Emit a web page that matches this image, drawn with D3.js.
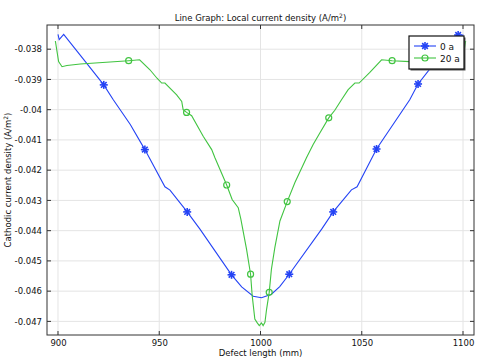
<!DOCTYPE html>
<html>
<head>
<meta charset="utf-8">
<script src="https://cdn.jsdelivr.net/npm/d3@7"></script>
<style>
  body { margin: 0; background: #fff; }
  svg { font-family: 'DejaVu Sans', sans-serif; }
</style>
</head>
<body>
<div id="chart"></div>
<script>
// series 0 a  [defect length (mm), current density (A/m2)]
const series0 = [
  [900, -0.03751], [900.6, -0.03768], [902.8, -0.03751], [914.3, -0.03848],
  [922.6, -0.03918], [927.3, -0.03967], [935.7, -0.04049], [942.9, -0.04132],
  [952.8, -0.04255], [955.3, -0.04266], [963.8, -0.04338], [970.1, -0.04395],
  [985.7, -0.04546], [990.7, -0.04586], [996.4, -0.04617], [1000.5, -0.04622],
  [1005.4, -0.0461], [1009.5, -0.04585], [1014.2, -0.04544], [1030.2, -0.04395],
  [1035.9, -0.04338], [1044.9, -0.04265], [1047.7, -0.04255], [1057.3, -0.0413],
  [1073.7, -0.03967], [1077.8, -0.03915], [1085.7, -0.03848], [1097.2, -0.03751],
  [1099.4, -0.03768], [1100, -0.03751]
]
const markers0 = [
  [922.6, -0.03918], [942.9, -0.04132], [963.8, -0.04338], [985.7, -0.04546],
  [1014.2, -0.04544], [1035.9, -0.04338], [1057.3, -0.0413], [1077.8, -0.03915],
  [1097.6, -0.03753]
]

// series 20 a
const series20 = [
  [898.7, -0.03773], [900.3, -0.03841], [902, -0.03858], [904.4, -0.03854],
  [911, -0.03849], [934.9, -0.03838], [940.3, -0.03835], [945.4, -0.03868],
  [948.9, -0.03896], [951.2, -0.03912], [952.8, -0.03912], [958.6, -0.03951],
  [961.1, -0.03973], [961.8, -0.04], [963.5, -0.04009], [966, -0.0402],
  [971.7, -0.04088], [975.9, -0.04132], [977.5, -0.04159], [983.3, -0.04249],
  [986, -0.04297], [989, -0.04324], [990.3, -0.04362], [993.1, -0.04461],
  [995.1, -0.04544], [995.9, -0.04615], [997.2, -0.04692], [998.4, -0.04705],
  [999.4, -0.04714], [1000.5, -0.04705], [1001.3, -0.04714], [1002.2, -0.04703],
  [1003, -0.0466], [1004.3, -0.04604], [1005.4, -0.04527], [1007.1, -0.04455],
  [1009.6, -0.04368], [1013.2, -0.04304], [1017, -0.04241], [1022.7, -0.04159],
  [1026, -0.04115], [1029.3, -0.04077], [1033.7, -0.04027], [1036.7, -0.04002],
  [1040, -0.03967], [1043.3, -0.03934], [1046.6, -0.03912], [1048.7, -0.03912],
  [1054, -0.03877], [1059.8, -0.03835], [1065, -0.03838], [1073.7, -0.03841],
  [1096, -0.03854], [1098, -0.03858], [1099.7, -0.03841], [1101.3, -0.03773]
]
const markers20 = [
  [934.9, -0.03838], [963.5, -0.04009], [983.3, -0.04249], [995.1, -0.04544],
  [1004.3, -0.04604], [1013.2, -0.04304], [1033.7, -0.04027], [1065, -0.03838]
]

const xTicks = [900, 950, 1000, 1050, 1100]
const yTicks = [-0.038, -0.039, -0.04, -0.041, -0.042, -0.043, -0.044, -0.045, -0.046, -0.047]
const legendLabels = ['0 a', '20 a']

const blue = '#2443f5'
const green = '#41c441'

const margin = { top: 25, left: 47, right: 11, bottom: 25 }
const width = 485 - margin.left - margin.right
const height = 360 - margin.top - margin.bottom

const svgRoot = d3
  .select('#chart')
  .append('svg')
  .attr('width', 485)
  .attr('height', 360)

const svg = svgRoot
  .append('g')
  .attr('transform', 'translate(' + margin.left + ',' + margin.top + ')')

const xPositionScale = d3.scaleLinear().domain([894.57, 1105.43]).range([0, width])
const yPositionScale = d3.scaleLinear().domain([-0.04745, -0.0372]).range([height, 0])

// grid
svg
  .selectAll('.vgrid')
  .data(xTicks)
  .enter()
  .append('line')
  .attr('x1', d => xPositionScale(d))
  .attr('x2', d => xPositionScale(d))
  .attr('y1', 0)
  .attr('y2', height)
  .attr('stroke', '#e4e4e4')
svg
  .selectAll('.hgrid')
  .data(yTicks)
  .enter()
  .append('line')
  .attr('y1', d => yPositionScale(d))
  .attr('y2', d => yPositionScale(d))
  .attr('x1', 0)
  .attr('x2', width)
  .attr('stroke', '#e4e4e4')

const line = d3
  .line()
  .x(d => xPositionScale(d[0]))
  .y(d => yPositionScale(d[1]))

svg
  .append('path')
  .datum(series0)
  .attr('d', line)
  .attr('fill', 'none')
  .attr('stroke', blue)
  .attr('stroke-width', 1.1)

svg
  .append('path')
  .datum(series20)
  .attr('d', line)
  .attr('fill', 'none')
  .attr('stroke', green)
  .attr('stroke-width', 1.1)

// asterisk marker
function star(g, r) {
  const angles = [0, 45, 90, 135]
  angles.forEach(a => {
    const rad = (a * Math.PI) / 180
    g.append('line')
      .attr('x1', -r * Math.cos(rad))
      .attr('y1', -r * Math.sin(rad))
      .attr('x2', r * Math.cos(rad))
      .attr('y2', r * Math.sin(rad))
      .attr('stroke', blue)
      .attr('stroke-width', 1.6)
  })
}

svg
  .selectAll('.star')
  .data(markers0)
  .enter()
  .append('g')
  .attr('transform', d => 'translate(' + xPositionScale(d[0]) + ',' + yPositionScale(d[1]) + ')')
  .each(function() {
    star(d3.select(this), 4)
  })

svg
  .selectAll('.ring')
  .data(markers20)
  .enter()
  .append('circle')
  .attr('cx', d => xPositionScale(d[0]))
  .attr('cy', d => yPositionScale(d[1]))
  .attr('r', 3)
  .attr('fill', 'none')
  .attr('stroke', green)
  .attr('stroke-width', 1.2)

// axes (frame with inward ticks)
const xAxis = d3
  .axisBottom(xPositionScale)
  .tickValues(xTicks)
  .tickFormat(d3.format('d'))
  .tickSize(0)
  .tickPadding(5)
svg
  .append('g')
  .attr('class', 'axis x-axis')
  .attr('transform', 'translate(0,' + height + ')')
  .call(xAxis)

const yAxis = d3
  .axisLeft(yPositionScale)
  .tickValues(yTicks)
  .tickFormat(d => String(d))
  .tickSize(0)
  .tickPadding(5)
svg
  .append('g')
  .attr('class', 'axis y-axis')
  .call(yAxis)

svg.selectAll('.axis path').remove()
svg
  .selectAll('.axis text')
  .attr('font-size', 8.5)
  .attr('font-family', 'DejaVu Sans')
  .attr('fill', '#111')

// inward tick marks on all four sides
yTicks.forEach(t => {
  svg.append('line').attr('x1', 0).attr('x2', 4)
    .attr('y1', yPositionScale(t)).attr('y2', yPositionScale(t)).attr('stroke', '#333')
  svg.append('line').attr('x1', width - 4).attr('x2', width)
    .attr('y1', yPositionScale(t)).attr('y2', yPositionScale(t)).attr('stroke', '#333')
})
xTicks.forEach(t => {
  svg.append('line').attr('y1', height).attr('y2', height - 4)
    .attr('x1', xPositionScale(t)).attr('x2', xPositionScale(t)).attr('stroke', '#333')
  svg.append('line').attr('y1', 0).attr('y2', 4)
    .attr('x1', xPositionScale(t)).attr('x2', xPositionScale(t)).attr('stroke', '#333')
})

svg
  .append('rect')
  .attr('x', 0)
  .attr('y', 0)
  .attr('width', width)
  .attr('height', height)
  .attr('fill', 'none')
  .attr('stroke', '#333')
  .attr('stroke-width', 1)

// titles
const title = svgRoot
  .append('text')
  .attr('x', margin.left + width / 2)
  .attr('y', 21)
  .attr('text-anchor', 'middle')
  .attr('font-size', 8.5)
  .attr('fill', '#111')
  .text('Line Graph: Local current density (A/m')
title.append('tspan').attr('dy', -3).attr('font-size', 6).text('2')
title.append('tspan').attr('dy', 3).text(')')

svgRoot
  .append('text')
  .attr('x', margin.left + width / 2)
  .attr('y', 356)
  .attr('text-anchor', 'middle')
  .attr('font-size', 8.5)
  .attr('fill', '#111')
  .text('Defect length (mm)')

const yLabel = svgRoot
  .append('text')
  .attr('transform', 'translate(11,' + (margin.top + height / 2) + ') rotate(-90)')
  .attr('text-anchor', 'middle')
  .attr('font-size', 8.5)
  .attr('fill', '#111')
  .text('Cathodic current density (A/m')
yLabel.append('tspan').attr('dy', -3).attr('font-size', 6).text('2')
yLabel.append('tspan').attr('dy', 3).text(')')

// legend
const legend = svgRoot.append('g').attr('transform', 'translate(409,36)')
legend
  .append('rect')
  .attr('x', 1.5)
  .attr('y', 1.5)
  .attr('width', 55)
  .attr('height', 33)
  .attr('fill', '#555')
legend
  .append('rect')
  .attr('width', 55)
  .attr('height', 33)
  .attr('fill', '#fff')
  .attr('stroke', '#111')
  .attr('stroke-width', 1.2)

legendLabels.forEach((label, i) => {
  const yy = 10 + i * 12
  const color = i === 0 ? blue : green
  legend.append('line').attr('x1', 5).attr('x2', 27).attr('y1', yy).attr('y2', yy)
    .attr('stroke', color).attr('stroke-width', 1.1)
  if (i === 0) {
    const g = legend.append('g').attr('transform', 'translate(16,' + yy + ')')
    star(g, 4)
  } else {
    legend.append('circle').attr('cx', 16).attr('cy', yy).attr('r', 3)
      .attr('fill', 'none').attr('stroke', green).attr('stroke-width', 1.2)
  }
  legend.append('text').attr('x', 31).attr('y', yy + 3.5)
    .attr('font-size', 9).attr('fill', '#111').text(label)
})
</script>
</body>
</html>
